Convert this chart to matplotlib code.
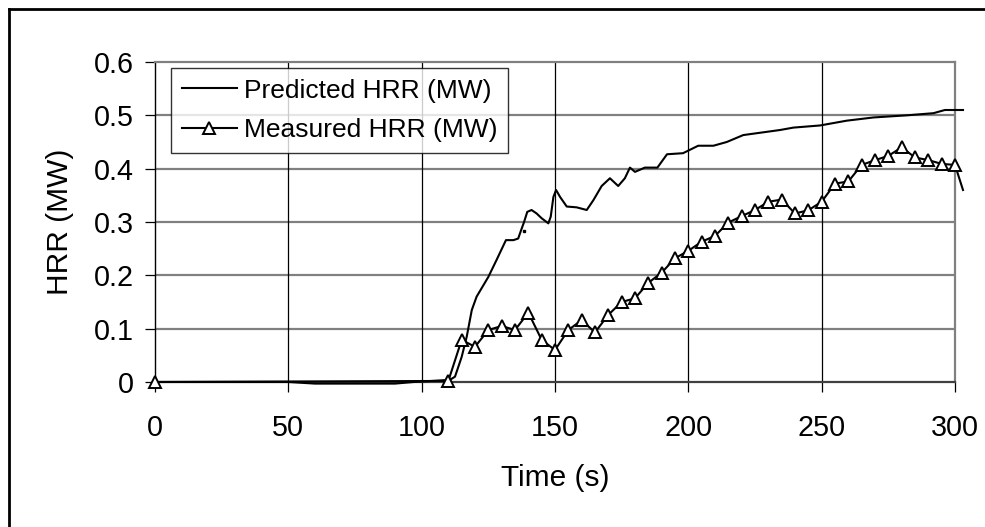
import matplotlib
matplotlib.use("Agg")
import matplotlib.pyplot as plt
from matplotlib.lines import Line2D

plt.rcParams["font.family"] = ["Liberation Sans", "DejaVu Sans"]

# ---------------------------------------------------------------------------
# data
# ---------------------------------------------------------------------------
pred_t = [0, 50, 60, 90, 97, 110.6, 112.5, 115, 116.9, 118.8, 120.6, 125, 128.1,
          131.6, 134.4, 136.2, 137.1, 138.4, 139.6, 141.2, 143.1, 145, 147.5,
          148.4, 149.4, 150.4, 151.9, 154.4, 158.1, 161.9, 164.4, 167.5, 170.6,
          173.7, 176.2, 178.1, 180, 183.7, 188.4, 192, 198, 203.7, 209.4, 214.4,
          220.6, 234.4, 239.4, 249.4, 259.4, 269.4, 281.9, 291.9, 296.2, 303]
pred_hrr = [0, 0, -0.003, -0.003, 0, 0.004, 0.01, 0.047, 0.085, 0.135, 0.16,
            0.197, 0.229, 0.266, 0.266, 0.269, 0.282, 0.30, 0.319, 0.3225, 0.316,
            0.307, 0.2975, 0.31, 0.347, 0.36, 0.347, 0.329, 0.3275, 0.3225, 0.341,
            0.3675, 0.382, 0.3675, 0.382, 0.402, 0.394, 0.402, 0.402, 0.427, 0.429,
            0.443, 0.443, 0.45, 0.463, 0.4725, 0.477, 0.481, 0.49, 0.496, 0.50,
            0.504, 0.51, 0.51]

meas_t = [0, 110, 115, 120, 125, 130, 135, 140, 145, 150, 155, 160, 165, 170,
          175, 180, 185, 190, 195, 200, 205, 210, 215, 220, 225, 230, 235, 240,
          245, 250, 255, 260, 265, 270, 275, 280, 285, 290, 295, 300, 303]
meas_hrr = [0, 0.002, 0.079, 0.066, 0.0975, 0.105, 0.0975, 0.13, 0.079, 0.06,
            0.0975, 0.116, 0.093, 0.126, 0.15, 0.157, 0.186, 0.205, 0.232, 0.246,
            0.263, 0.274, 0.299, 0.311, 0.3225, 0.338, 0.342, 0.316, 0.322, 0.338,
            0.372, 0.376, 0.407, 0.416, 0.424, 0.44, 0.421, 0.416, 0.409, 0.407,
            0.36]

# stray dot near the predicted curve
dot_t = [138.4]
dot_hrr = [0.283]

x_ticks = [0, 50, 100, 150, 200, 250, 300]
y_ticks = [0, 0.1, 0.2, 0.3, 0.4, 0.5, 0.6]
y_tick_labels = ["0", "0.1", "0.2", "0.3", "0.4", "0.5", "0.6"]

# ---------------------------------------------------------------------------
fig = plt.figure(figsize=(9.85, 5.27), dpi=100)
ax = fig.add_axes([155 / 985, 1 - 382 / 527, 800 / 985, 320 / 527])

# gridlines: horizontal grey, vertical black
for y in y_ticks[1:-1]:
    ax.axhline(y, color="#808080", lw=1.6, zorder=1)
for x in x_ticks[1:-1]:
    ax.axvline(x, color="black", lw=0.9, zorder=1)

ax.plot(pred_t, pred_hrr, color="black", lw=1.5, zorder=3, clip_on=False,
        label="Predicted HRR (MW)")
ax.plot(meas_t, meas_hrr, color="black", lw=1.5, marker="^", ms=9,
        mfc="white", mec="black", mew=1.4, markevery=list(range(len(meas_t) - 1)),
        zorder=4, clip_on=False, label="Measured HRR (MW)")
ax.plot(dot_t, dot_hrr, ls="none", marker="s", ms=1.6, color="black", zorder=3)

ax.set_xlim(0, 300)
ax.set_ylim(0, 0.6)
ax.set_xticks(x_ticks)
ax.set_yticks(y_ticks)
ax.set_yticklabels(y_tick_labels)

ax.spines["top"].set_color("#808080")
ax.spines["right"].set_color("#808080")
ax.spines["top"].set_linewidth(1.6)
ax.spines["right"].set_linewidth(1.6)
ax.spines["left"].set_color("black")
ax.spines["left"].set_linewidth(1.0)
ax.spines["bottom"].set_color("#404040")
ax.spines["bottom"].set_linewidth(1.6)

ax.tick_params(axis="both", direction="out", length=7.2, width=0.9,
               labelsize=20.7, color="black")
ax.tick_params(axis="x", pad=16)
ax.tick_params(axis="y", pad=8)

ax.set_xlabel("Time (s)", fontsize=21.5, labelpad=16)
ax.set_ylabel("HRR (MW)", fontsize=21.5, labelpad=14)

leg = ax.legend(loc="upper left", bbox_to_anchor=(16 / 800, 314 / 320),
                fontsize=19, frameon=True, fancybox=False, handlelength=2.1,
                handletextpad=0.25, borderpad=0.4, labelspacing=0.6,
                borderaxespad=0)
leg.get_frame().set_edgecolor("black")
leg.get_frame().set_linewidth(1.0)

# partial outer frame (top and left edges only)
fig.add_artist(Line2D([9 / 985, 1.0], [1 - 9 / 527, 1 - 9 / 527],
                      transform=fig.transFigure, color="black", lw=2))
fig.add_artist(Line2D([9 / 985, 9 / 985], [0, 1 - 9 / 527],
                      transform=fig.transFigure, color="black", lw=2))

fig.savefig("out.png", dpi=100)
